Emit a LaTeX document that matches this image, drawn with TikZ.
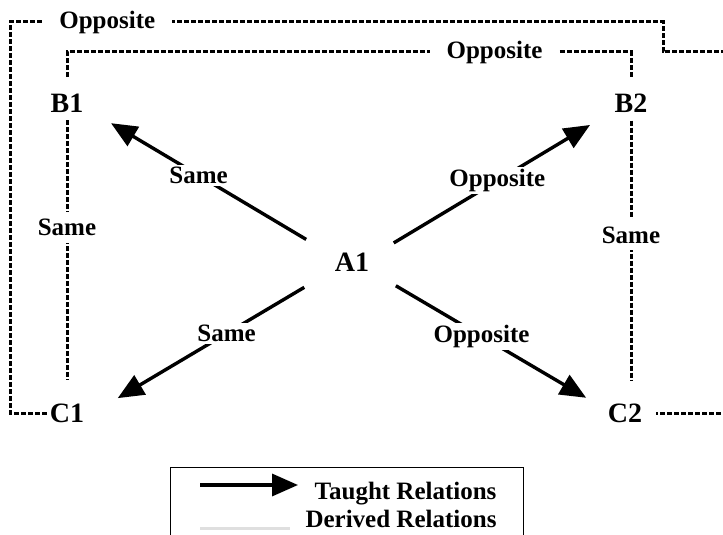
\documentclass[tikz,border=0pt]{standalone}
\usepackage{fontspec}
\setmainfont{Liberation Serif}
\usepackage{tikz}
\usetikzlibrary{arrows.meta, positioning}

\begin{document}
\begin{tikzpicture}[x=1pt, y=-1pt, >={Triangle[length=26pt, width=22pt]}]
\tikzstyle{term} = [font=\bfseries\fontsize{28}{30}\selectfont, inner xsep=3pt, inner ysep=8pt]
\tikzstyle{rel} = [font=\bfseries\fontsize{25}{27}\selectfont, fill=white, inner sep=2pt]
\tikzstyle{gap} = [rel, inner xsep=17pt, inner ysep=7pt]
\tikzstyle{taught} = [->, line width=3.4pt]
\tikzstyle{derived} = [line width=3pt, dash pattern=on 5pt off 2pt]
\tikzstyle{legendtext} = [font=\bfseries\fontsize{25}{27}\selectfont, anchor=base east]

\clip (0,0) rectangle (723,535);

% the five stimuli
\node [term] (A1) at (352,262) {A1};
\node [term] (B1) at (67,103) {B1};
\node [term] (B2) at (631,103) {B2};
\node [term] (C1) at (67,413) {C1};
\node [term] (C2) at (625,413) {C2};

\coordinate (innertop) at (0,52);
\coordinate (outerNW) at (10,22);
\coordinate (outerNE) at (663,22);
\coordinate (outerE) at (740,52);

% taught relations
\draw [taught, shorten <=29.7pt, shorten >=28.5pt] (A1.160.8) -- node[rel, pos=0.543] {Same} (B1.344.5);
\draw [taught, shorten <=25pt, shorten >=25pt] (A1.17.4) -- node[rel, pos=0.523] {Opposite} (B2.205);
\draw [taught, shorten <=31.9pt, shorten >=35.4pt] (A1.204) -- node[rel, pos=0.43] {Same} (C1.351);
\draw [taught, shorten <=27.3pt, shorten >=21.5pt] (A1.334.7) -- node[rel, pos=0.47] {Opposite} (C2.168);

% derived relations
\draw [derived, shorten >=15pt] (B1.south) -- node[gap, pos=0.39] {Same} (C1.north);
\draw [derived, shorten >=15pt] (B2.south) -- node[gap, pos=0.416] {Same} (B2.south |- C2.north);
\draw [derived, shorten <=8.5pt, shorten >=8.5pt] (B1.north) -- (B1.north |- innertop) -| node[gap, pos=0.379] {Opposite} (B2.north);
\draw [derived, shorten >=10.7pt] (C1.west) -| (outerNW) -- node[gap, pos=0.149] {Opposite} (outerNE) |- (outerE) |- (C2.east);

% legend
\node [draw, line width=1pt, anchor=north west, minimum width=353pt, minimum height=90pt] (legend) at (170,467) {};
\coordinate (taughtL) at (200,485);
\coordinate (taughtR) at (298,485);
\coordinate (derivedL) at (200,528);
\coordinate (derivedR) at (290,528);
\draw [taught] (taughtL) -- (taughtR);
\draw [line width=3pt, gray!25] (derivedL) -- (derivedR);
\node [legendtext] (taughttext) at (500,499) {Taught Relations};
\node [legendtext] (derivedtext) at (500,527) {Derived Relations};

\end{tikzpicture}
\end{document}
